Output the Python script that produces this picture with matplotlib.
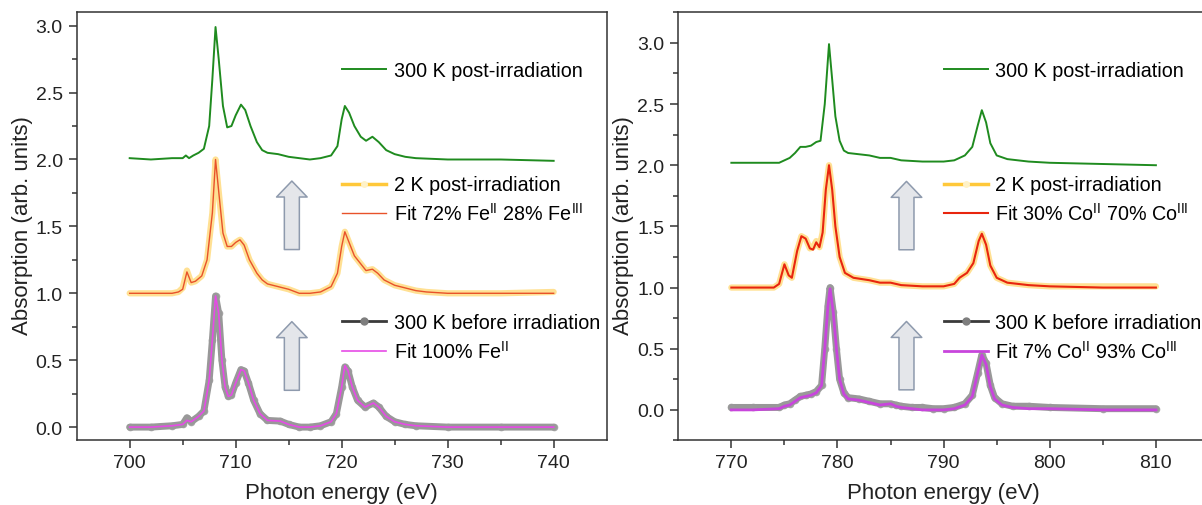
import matplotlib
matplotlib.use('Agg')
import matplotlib.pyplot as plt
import matplotlib.patches as mpatches
from matplotlib.lines import Line2D

plt.rcParams['font.family'] = ['Liberation Sans', 'DejaVu Sans']
plt.rcParams['mathtext.fontset'] = 'custom'
plt.rcParams['mathtext.rm'] = 'Liberation Sans'

# ---- Fe L-edge (left panel) ----
fe_top_e = [700, 702, 704, 705, 705.3, 705.6, 706, 706.5, 707, 707.5, 707.8, 708.1, 708.4, 708.8,
            709.2, 709.6, 710, 710.5, 710.9, 711.4, 712, 712.5, 713, 714, 715, 716, 717, 718, 719,
            719.6, 720, 720.3, 720.7, 721.2, 721.8, 722.3, 722.9, 723.5, 724.2, 725, 726, 727, 730,
            735, 740]
fe_top_y = [2.01, 2.0, 2.01, 2.01, 2.03, 2.01, 2.03, 2.05, 2.08, 2.25, 2.6, 2.99, 2.75, 2.4,
            2.24, 2.25, 2.33, 2.41, 2.37, 2.25, 2.13, 2.07, 2.05, 2.04, 2.02, 2.01, 2.0, 2.01, 2.03,
            2.1, 2.3, 2.4, 2.35, 2.25, 2.17, 2.14, 2.17, 2.13, 2.07, 2.04, 2.02, 2.01, 2.0,
            2.0, 1.99]

fe_mid_e = [700, 702, 704, 704.6, 705.0, 705.4, 705.8, 706.2, 706.8, 707.3, 707.8, 708.1, 708.4,
            708.8, 709.2, 709.6, 710, 710.4, 710.8, 711.3, 712, 712.5, 713, 714, 715, 716, 717, 718,
            719, 719.6, 720, 720.3, 720.7, 721.2, 721.8, 722.3, 722.9, 723.4, 724, 725, 726, 727,
            728, 730, 735, 740]
fe_mid_data = [1.0, 1.0, 1.0, 1.01, 1.04, 1.17, 1.08, 1.09, 1.13, 1.25, 1.6, 2.0, 1.76,
               1.45, 1.35, 1.35, 1.38, 1.4, 1.36, 1.25, 1.15, 1.1, 1.07, 1.05, 1.03, 1.0, 1.0, 1.01,
               1.05, 1.15, 1.35, 1.46, 1.38, 1.28, 1.22, 1.17, 1.18, 1.15, 1.1, 1.06, 1.04, 1.02,
               1.01, 1.0, 1.0, 1.01]
fe_mid_fit = [1.0, 1.0, 1.0, 1.01, 1.03, 1.16, 1.08, 1.09, 1.13, 1.25, 1.6, 2.0, 1.76,
              1.45, 1.35, 1.35, 1.38, 1.4, 1.36, 1.25, 1.15, 1.1, 1.07, 1.05, 1.03, 1.0, 1.0, 1.01,
              1.05, 1.15, 1.35, 1.46, 1.38, 1.28, 1.22, 1.17, 1.18, 1.15, 1.1, 1.06, 1.04, 1.02,
              1.01, 1.0, 1.0, 1.0]

fe_bot_e = [700, 702, 704, 705, 705.4, 705.8, 706.5, 707, 707.5, 707.8, 708.1, 708.4, 708.7,
            709.0, 709.3, 709.6, 710, 710.5, 710.8, 711.2, 711.7, 712.3, 713, 714.2, 715, 716, 717,
            718, 719, 719.5, 720, 720.3, 720.6, 721, 721.5, 722.2, 723, 723.5, 724.2, 725, 726,
            727, 730, 735, 740]
fe_bot_data = [0.0, 0.0, 0.01, 0.02, 0.07, 0.04, 0.08, 0.12, 0.35, 0.65, 0.98, 0.85, 0.5,
               0.3, 0.23, 0.24, 0.33, 0.43, 0.42, 0.33, 0.2, 0.1, 0.05, 0.045, 0.02, 0.0, 0.0,
               0.01, 0.04, 0.1, 0.3, 0.45, 0.42, 0.3, 0.2, 0.15, 0.18, 0.15, 0.08, 0.04, 0.02,
               0.01, 0.0, 0.0, 0.0]
fe_bot_fit = [0.0, 0.0, 0.01, 0.02, 0.05, 0.04, 0.08, 0.12, 0.35, 0.65, 0.98, 0.85, 0.5,
              0.3, 0.23, 0.24, 0.33, 0.43, 0.42, 0.33, 0.2, 0.1, 0.05, 0.045, 0.02, 0.0, 0.0,
              0.01, 0.04, 0.1, 0.3, 0.46, 0.42, 0.3, 0.2, 0.15, 0.18, 0.15, 0.08, 0.04, 0.02,
              0.01, 0.0, 0.0, 0.0]

# ---- Co L-edge (right panel) ----
co_top_e = [770, 772, 774.5, 775, 775.5, 776, 776.5, 777, 777.5, 778, 778.4, 778.8, 779.2, 779.5,
            779.8, 780.2, 780.6, 781, 782, 783, 784, 785, 786, 788, 790, 791, 792, 792.7, 793.2,
            793.6, 794.0, 794.4, 795, 796, 798, 800, 805, 810]
co_top_y = [2.02, 2.02, 2.02, 2.04, 2.06, 2.1, 2.15, 2.15, 2.16, 2.19, 2.2, 2.5, 2.99, 2.7,
            2.4, 2.2, 2.12, 2.1, 2.09, 2.08, 2.06, 2.06, 2.04, 2.03, 2.03, 2.04, 2.08, 2.15, 2.32,
            2.45, 2.35, 2.18, 2.08, 2.05, 2.03, 2.02, 2.01, 2.0]

co_mid_e = [770, 772, 774, 774.5, 775.0, 775.4, 775.7, 776.2, 776.6, 777.0, 777.4, 777.7, 778.0,
            778.3, 778.6, 778.9, 779.2, 779.5, 779.8, 780.2, 780.7, 781.5, 783, 784, 785, 786, 788,
            790, 791, 791.5, 792.2, 792.8, 793.3, 793.6, 794.0, 794.4, 795, 796, 798, 800, 805, 810]
co_mid_data = [1.0, 1.0, 1.0, 1.03, 1.19, 1.1, 1.08, 1.3, 1.42, 1.4, 1.32, 1.33, 1.38,
               1.33, 1.45, 1.8, 2.0, 1.8, 1.5, 1.25, 1.12, 1.08, 1.06, 1.04, 1.04, 1.02, 1.01,
               1.01, 1.03, 1.08, 1.12, 1.2, 1.38, 1.44, 1.35, 1.18, 1.08, 1.04, 1.02, 1.01, 1.01, 1.01]
co_mid_fit = [1.0, 1.0, 1.0, 1.03, 1.19, 1.1, 1.08, 1.3, 1.42, 1.4, 1.32, 1.31, 1.37,
              1.33, 1.45, 1.8, 2.0, 1.8, 1.5, 1.25, 1.12, 1.08, 1.06, 1.04, 1.04, 1.02, 1.01,
              1.01, 1.03, 1.08, 1.12, 1.2, 1.38, 1.44, 1.35, 1.18, 1.08, 1.04, 1.02, 1.01, 1.0, 1.0]

co_bot_e = [770, 772, 774.5, 775, 775.5, 776, 776.5, 777, 777.5, 778, 778.5, 778.8, 779.1, 779.3,
            779.6, 779.9, 780.2, 780.6, 781, 782, 783, 784, 785, 785.5, 786, 787, 788, 789, 790,
            791, 792, 792.7, 793.2, 793.6, 794.0, 794.4, 794.8, 795.5, 796.5, 798, 800, 805, 810]
co_bot_data = [0.02, 0.02, 0.02, 0.04, 0.05, 0.08, 0.11, 0.12, 0.13, 0.15, 0.2, 0.5, 0.85, 1.0,
               0.8, 0.5, 0.25, 0.14, 0.1, 0.09, 0.07, 0.05, 0.05, 0.04, 0.03, 0.02, 0.02, 0.01, 0.01,
               0.02, 0.05, 0.12, 0.3, 0.45, 0.38, 0.2, 0.1, 0.05, 0.03, 0.03, 0.02, 0.01, 0.01]
co_bot_fit = [0.0, 0.0, 0.01, 0.03, 0.04, 0.07, 0.1, 0.11, 0.12, 0.14, 0.2, 0.5, 0.85, 0.99,
              0.8, 0.5, 0.25, 0.13, 0.09, 0.08, 0.06, 0.04, 0.05, 0.03, 0.02, 0.01, 0.0, 0.0, 0.0,
              0.01, 0.04, 0.11, 0.3, 0.45, 0.37, 0.19, 0.09, 0.04, 0.02, 0.01, 0.01, 0.0, 0.0]

fe_labels = ['300 K post-irradiation', '2 K post-irradiation',
             'Fit 72% Fe$^{\\mathregular{II}}$ 28% Fe$^{\\mathregular{III}}$',
             '300 K before irradiation', 'Fit 100% Fe$^{\\mathregular{II}}$']
co_labels = ['300 K post-irradiation', '2 K post-irradiation',
             'Fit 30% Co$^{\\mathregular{II}}$ 70% Co$^{\\mathregular{III}}$',
             '300 K before irradiation',
             'Fit 7% Co$^{\\mathregular{II}}$ 93% Co$^{\\mathregular{III}}$']

green = '#1F8B1F'
yellow = '#FFC83A'
gray_line = '#3A3A3A'
gray_dot = '#7E7E7E'

fig = plt.figure(figsize=(12.02, 5.06), dpi=100)
axL = fig.add_axes([0.0638, 0.1275, 0.4409, 0.8462])
axR = fig.add_axes([0.5643, 0.1275, 0.4415, 0.8462])


def draw_panel(ax, top_e, top_y, mid_e, mid_data, mid_fit, bot_e, bot_data, bot_fit,
               fit_mid_col, fit_mid_lw, fit_bot_col, fit_bot_lw, labels):
    h1, = ax.plot(top_e, top_y, color=green, lw=1.4)
    ax.plot(mid_e, mid_data, color=yellow, lw=4.5, alpha=0.55, solid_capstyle='round')
    h2 = Line2D([], [], color=yellow, lw=2.5, marker='o', ms=4, mfc='#FFF2C8', mec='#FFF2C8')
    h3, = ax.plot(mid_e, mid_fit, color=fit_mid_col, lw=fit_mid_lw)
    ax.plot(bot_e, bot_data, color=gray_dot, lw=5, alpha=0.8, solid_capstyle='round')
    ax.plot(bot_e, bot_data, color='#9A9A9A', lw=0, marker='o', ms=4.5, alpha=0.8)
    h4 = Line2D([], [], color=gray_line, lw=2, marker='o', ms=5, mfc=gray_dot, mec=gray_dot)
    h5, = ax.plot(bot_e, bot_fit, color=fit_bot_col, lw=fit_bot_lw)

    kw = dict(loc='center left', frameon=False, borderpad=0, borderaxespad=0,
              handlelength=2.25, handletextpad=0.38, labelspacing=0.4, fontsize=14.2)
    lg1 = ax.legend([h1], labels[:1], bbox_to_anchor=(0.50, 0.8636), **kw)
    ax.add_artist(lg1)
    lg2 = ax.legend([h2, h3], labels[1:3], bbox_to_anchor=(0.50, 0.562), **kw)
    ax.add_artist(lg2)
    ax.legend([h4, h5], labels[3:5], bbox_to_anchor=(0.50, 0.24), **kw)

    for sp in ax.spines.values():
        sp.set_linewidth(1.1)
        sp.set_color('#333333')
    ax.tick_params(which='major', direction='out', length=6, width=1.1, labelsize=14,
                   pad=4, color='#333333', labelcolor='#222222')
    ax.tick_params(which='minor', direction='out', length=3.5, width=1.1, color='#333333')
    ax.set_xlabel('Photon energy (eV)', fontsize=16, color='#222222')
    ax.set_ylabel('Absorption (arb. units)', fontsize=16, color='#222222')
    ax.xaxis.set_label_coords(0.5, -0.098)
    ax.yaxis.set_label_coords(-0.083, 0.505)


def add_arrow(ax, x, y0, y1):
    ax.add_patch(mpatches.FancyArrowPatch(
        (x, y0), (x, y1),
        arrowstyle=mpatches.ArrowStyle.Simple(head_length=11.5, head_width=22, tail_width=10.8),
        mutation_scale=1, shrinkA=0, shrinkB=0, fc='#E4E6EA', ec='#8E9AAD', lw=1.1))


draw_panel(axL, fe_top_e, fe_top_y, fe_mid_e, fe_mid_data, fe_mid_fit, fe_bot_e, fe_bot_data,
           fe_bot_fit, '#E8522A', 1.0, '#E64BE6', 1.2, fe_labels)
axL.set_xlim(695, 745)
axL.set_ylim(-0.1, 3.1)
axL.set_xticks([700, 710, 720, 730, 740])
axL.set_xticks([705, 715, 725, 735], minor=True)
axL.set_yticks([0.0, 0.5, 1.0, 1.5, 2.0, 2.5, 3.0])
axL.set_yticks([0.25, 0.75, 1.25, 1.75, 2.25, 2.75], minor=True)
axL.set_yticklabels(['0.0', '0.5', '1.0', '1.5', '2.0', '2.5', '3.0'])
add_arrow(axL, 715.3, 1.327, 1.839)
add_arrow(axL, 715.3, 0.275, 0.788)

draw_panel(axR, co_top_e, co_top_y, co_mid_e, co_mid_data, co_mid_fit, co_bot_e, co_bot_data,
           co_bot_fit, '#E8250E', 1.5, '#C845DC', 2.0, co_labels)
axR.set_xlim(765, 815)
axR.set_ylim(-0.25, 3.25)
axR.set_xticks([770, 780, 790, 800, 810])
axR.set_xticks([775, 785, 795, 805], minor=True)
axR.set_yticks([0.0, 0.5, 1.0, 1.5, 2.0, 2.5, 3.0])
axR.set_yticks([-0.25, 0.25, 0.75, 1.25, 1.75, 2.25, 2.75, 3.25], minor=True)
axR.set_yticklabels(['0.0', '0.5', '1.0', '1.5', '2.0', '2.5', '3.0'])
add_arrow(axR, 786.5, 1.309, 1.868)
add_arrow(axR, 786.5, 0.164, 0.723)

fig.savefig('out.png', dpi=100)
